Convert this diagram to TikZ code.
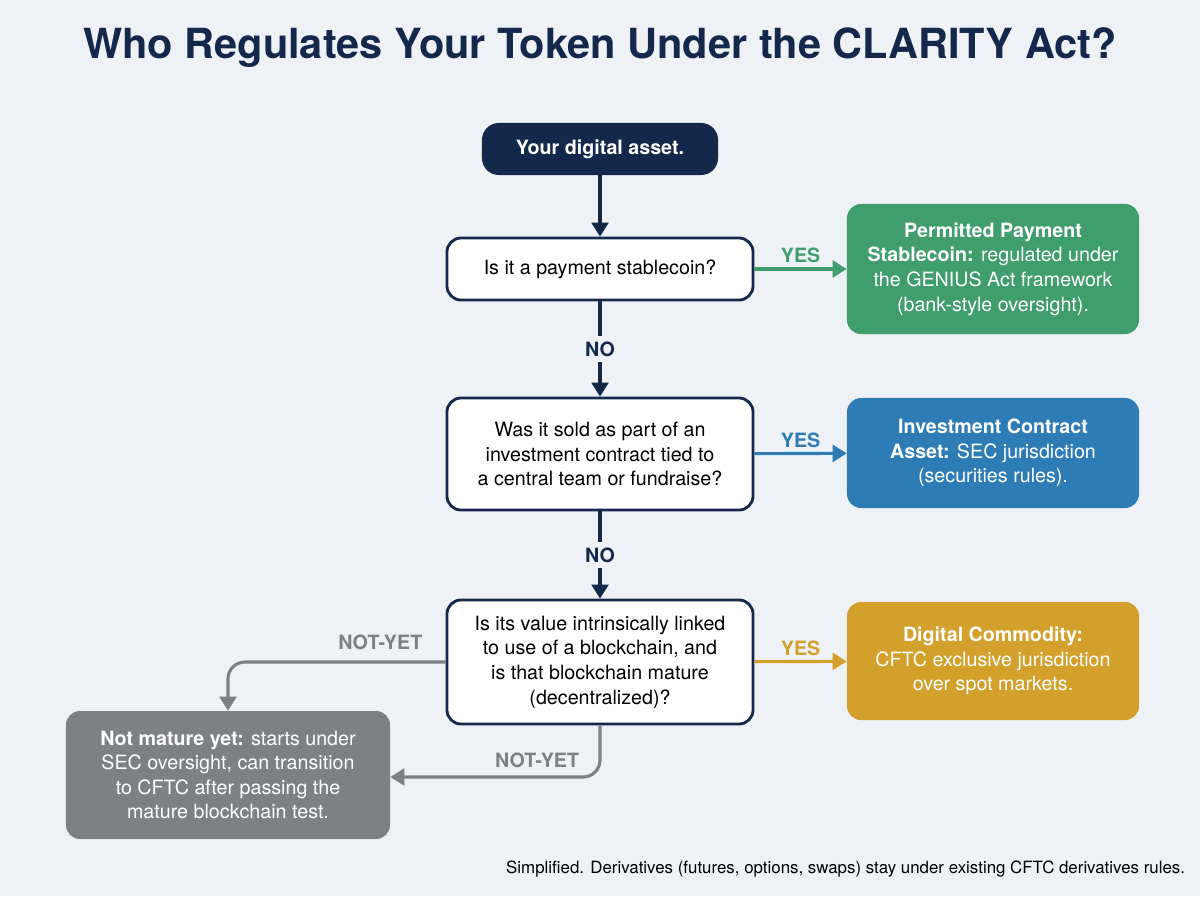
\documentclass[tikz,border=0pt]{standalone}
\usepackage{fontspec}
\setmainfont{TeX Gyre Heros}
\usetikzlibrary{positioning,arrows.meta}
\definecolor{navy}{HTML}{13284A}
\definecolor{bgc}{HTML}{EEF2F7}
\definecolor{okgreen}{HTML}{3F9E6C}
\definecolor{secblue}{HTML}{2E7CB6}
\definecolor{cftcgold}{HTML}{D3A02B}
\definecolor{waitgray}{HTML}{7D8085}
\tikzset{
  question/.style={rectangle, rounded corners=10pt, draw=navy, line width=2pt, fill=white,
    minimum width=7.65cm, align=center, font=\fontsize{14}{17.5}\selectfont},
  outcome/.style={rectangle, rounded corners=10pt, fill=#1, text=white, minimum width=7.3cm,
    align=center, font=\fontsize{14}{17.5}\selectfont},
  arrow/.style={line width=2.2pt, -{Triangle[length=10pt,width=12pt]}},
  answer/.style={font=\bfseries\fontsize{14}{16}\selectfont}
}
\begin{document}
\begin{tikzpicture}[x=0.025cm,y=-0.025cm]
\fill[bgc] (0,0) rectangle (1200,896);
\node (title) at (600,48) [text=navy, font=\bfseries\fontsize{29.5}{33}\selectfont] {Who Regulates Your Token Under the CLARITY Act?};

\node (start) at (600,149) [rectangle, rounded corners=12pt, fill=navy, text=white, minimum width=5.9cm, minimum height=1.3cm, font=\bfseries\fontsize{14}{16}\selectfont] {Your digital asset.};
\node (q1) at (600,269) [question, minimum height=1.55cm] {Is it a payment stablecoin?};
\node (q2) at (600,454) [question, minimum height=2.8cm] {Was it sold as part of an\\investment contract tied to\\a central team or fundraise?};
\node (q3) at (600,662) [question, minimum height=3.1cm] {Is its value intrinsically linked\\to use of a blockchain, and\\is that blockchain mature\\(decentralized)?};

\node (stable) at (993,269) [outcome=okgreen, minimum height=3.25cm] {\textbf{Permitted Payment}\\\textbf{Stablecoin:} regulated under\\the GENIUS Act framework\\(bank-style oversight).};
\node (security) at (993,453) [outcome=secblue, minimum height=2.75cm] {\textbf{Investment Contract}\\\textbf{Asset:} SEC jurisdiction\\(securities rules).};
\node (commodity) at (993,661) [outcome=cftcgold, minimum height=2.95cm] {\textbf{Digital Commodity:}\\CFTC exclusive jurisdiction\\over spot markets.};
\node (notyet) at (228,775) [outcome=waitgray, minimum width=8.1cm, minimum height=3.2cm] {\textbf{Not mature yet:} starts under\\SEC oversight, can transition\\to CFTC after passing the\\mature blockchain test.};

% main path
\draw [arrow, navy] (start) -- (q1);
\draw [arrow, navy] (q1) -- node[answer, fill=bgc, text=navy, inner sep=4pt] {NO} (q2);
\draw [arrow, navy] (q2) -- node[answer, fill=bgc, text=navy, inner sep=4pt] {NO} (q3);

% yes branches
\draw [arrow, okgreen] (q1) -- node[answer, above, text=okgreen] {YES} (stable);
\draw [arrow, secblue] (q2) -- node[answer, above, text=secblue] {YES} (security);
\draw [arrow, cftcgold] (q3) -- node[answer, above, text=cftcgold] {YES} (commodity);

% not yet
\draw [arrow, waitgray, rounded corners=12pt] (q3.west) -- node[answer, pos=0.3, above=4pt, text=waitgray] {NOT-YET} (228,662) -- (notyet.north);
\draw [arrow, waitgray, rounded corners=12pt] (q3.south) -- (600,777) -- node[answer, pos=0.3, above=2pt, text=waitgray] {NOT-YET} (notyet.east |- 0,777);

\node (note) [anchor=east, font=\fontsize{12}{14}\selectfont, text=black] at (1190,869) {Simplified. Derivatives (futures, options, swaps) stay under existing CFTC derivatives rules.};
\end{tikzpicture}
\end{document}
